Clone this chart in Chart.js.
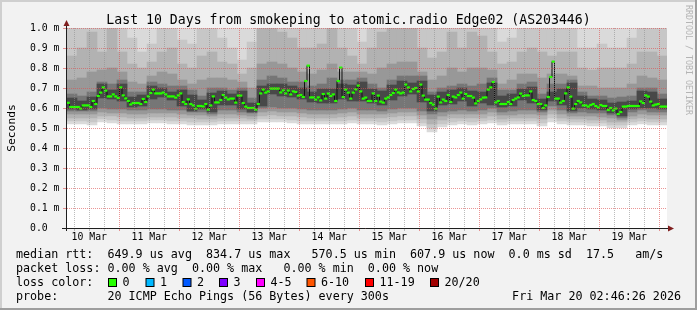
<!DOCTYPE html>
<html><head><meta charset="utf-8">
<script src="https://cdn.jsdelivr.net/npm/chart.js@4.4.1/dist/chart.umd.min.js"></script>
<style>html,body{margin:0;padding:0;background:#f2f2f2;overflow:hidden}canvas{display:block}</style>
</head><body>
<canvas id="c" width="697" height="310"></canvas>
<script>
// ---------------- data ----------------
const TITLE = 'Last 10 Days from smokeping to atomic.radio Edge02 (AS203446)';
const T0 = 3.08;            // left edge: hours after 10 Mar 00:00
const SPAN_HOURS = 240;     // 10 days
const dayLabels = ['10 Mar','11 Mar','12 Mar','13 Mar','14 Mar','15 Mar','16 Mar','17 Mar','18 Mar','19 Mar'];
const yTickLabels = ['0.0','0.1 m','0.2 m','0.3 m','0.4 m','0.5 m','0.6 m','0.7 m','0.8 m','0.9 m','1.0 m'];

// median RTT in ms, one value per hour (240)
const medianMs = [
 .626,.605,.605,.605,.605,.597,.613,.613,.613,.605,.635,.62,
 .66,.677,.703,.687,.658,.658,.668,.658,.65,.703,.663,.648,
 .635,.618,.625,.625,.625,.62,.645,.63,.658,.675,.692,.673,
 .673,.673,.677,.668,.658,.658,.658,.652,.663,.673,.63,.62,
 .643,.62,.613,.597,.61,.61,.608,.62,.592,.613,.658,.628,
 .628,.64,.665,.652,.643,.647,.647,.627,.662,.662,.625,.607,
 .60,.60,.60,.592,.62,.673,.692,.677,.683,.697,.697,.697,
 .697,.678,.688,.673,.687,.668,.683,.68,.662,.665,.655,.735,
 .812,.653,.653,.642,.653,.638,.67,.647,.672,.66,.668,.635,
 .735,.802,.655,.692,.677,.647,.677,.693,.712,.683,.647,.652,
 .635,.635,.673,.635,.662,.632,.627,.647,.653,.665,.675,.692,
 .678,.673,.677,.717,.703,.683,.695,.70,.683,.717,.662,.642,
 .642,.625,.617,.597,.657,.628,.642,.635,.665,.63,.657,.653,
 .665,.677,.647,.67,.66,.66,.652,.623,.635,.643,.652,.653,
 .692,.703,.73,.628,.635,.62,.62,.62,.63,.62,.64,.647,
 .653,.672,.66,.663,.663,.683,.64,.635,.62,.62,.60,.613,
 .655,.755,.832,.647,.647,.627,.635,.673,.703,.657,.597,.62,
 .635,.628,.613,.613,.607,.615,.62,.61,.603,.615,.61,.61,
 .59,.60,.588,.597,.57,.58,.607,.607,.61,.61,.61,.61,
 .61,.633,.625,.663,.657,.632,.613,.617,.62,.607,.607,.607
];

// smoke (ping spread) in ms, one column per 4 hours (60)
const SMOKE_TOP = 1.1; // outer smoke runs past the top of the graph
const smokeLo = [
 .52,.52,.515,.53,.525,.52,.52,.52,.525,.525, .52,.52,.515,.515,.515,.52,.52,.52,.52,.53,
 .53,.53,.525,.52,.52,.52,.52,.52,.525,.52, .52,.515,.52,.525,.525,.51,.48,.505,.515,.52,
 .515,.52,.525,.515,.52,.52,.52,.51,.53,.52, .515,.515,.51,.51,.50,.50,.515,.52,.515,.515];
const smokeL1 = [
 .535,.535,.53,.545,.54,.535,.535,.535,.54,.54, .535,.535,.53,.53,.53,.535,.535,.535,.535,.545,
 .545,.545,.54,.535,.535,.535,.535,.535,.54,.535, .535,.53,.535,.54,.54,.525,.50,.52,.53,.535,
 .53,.535,.54,.53,.535,.535,.535,.525,.55,.535, .53,.53,.525,.525,.515,.515,.53,.535,.53,.53];
const smokeL2 = [
 .55,.55,.55,.56,.56,.555,.55,.55,.555,.555, .555,.55,.55,.545,.545,.55,.55,.55,.545,.56,
 .565,.56,.56,.555,.55,.55,.55,.555,.56,.55, .55,.55,.555,.56,.56,.545,.52,.54,.55,.55,
 .55,.55,.56,.545,.55,.55,.55,.545,.57,.55, .545,.545,.54,.54,.53,.53,.545,.55,.545,.545];
const smokeL3 = [
 .57,.57,.57,.58,.575,.575,.57,.57,.575,.575, .575,.57,.565,.565,.56,.57,.57,.565,.56,.58,
 .585,.58,.58,.575,.57,.57,.57,.575,.58,.57, .57,.57,.575,.58,.58,.565,.545,.56,.57,.57,
 .57,.57,.58,.565,.565,.57,.57,.565,.59,.57, .56,.56,.56,.555,.55,.54,.56,.57,.565,.565];
const smokeL4 = [
 .585,.585,.585,.60,.595,.595,.59,.59,.595,.595, .59,.59,.58,.58,.57,.59,.59,.58,.575,.60,
 .605,.60,.60,.595,.59,.59,.59,.595,.60,.59, .59,.585,.595,.60,.60,.585,.57,.58,.585,.59,
 .585,.59,.60,.58,.585,.59,.59,.58,.61,.59, .575,.58,.575,.575,.565,.55,.58,.59,.58,.58];
const smokeL5 = [
 .595,.59,.595,.65,.645,.635,.605,.61,.645,.655, .64,.61,.585,.595,.58,.615,.615,.595,.58,.61,
 .67,.66,.655,.645,.63,.625,.625,.645,.635,.635, .625,.615,.64,.66,.67,.63,.585,.615,.62,.635,
 .61,.625,.615,.605,.61,.64,.625,.59,.635,.615, .585,.60,.595,.59,.575,.56,.595,.60,.60,.595];
const smokeU5 = [
 .65,.635,.655,.72,.69,.72,.655,.665,.71,.70, .68,.69,.665,.64,.675,.685,.67,.685,.625,.71,
 .72,.72,.71,.70,.68,.695,.695,.72,.715,.73, .695,.685,.715,.735,.725,.735,.665,.68,.69,.70,
 .685,.68,.725,.66,.67,.695,.705,.645,.68,.695, .725,.66,.645,.64,.625,.63,.635,.685,.68,.645];
const smokeU4 = [
 .67,.66,.68,.73,.72,.74,.68,.68,.73,.72, .71,.71,.69,.66,.70,.70,.69,.70,.65,.74,
 .76,.75,.73,.73,.71,.72,.75,.74,.74,.75, .72,.70,.74,.76,.76,.76,.68,.70,.71,.72,
 .71,.72,.75,.69,.69,.72,.73,.67,.72,.72, .74,.68,.66,.66,.65,.655,.66,.70,.70,.67];
const smokeU3 = [
 .74,.75,.78,.79,.80,.78,.73,.72,.76,.78, .77,.74,.72,.74,.75,.75,.74,.73,.70,.82,
 .83,.82,.80,.78,.77,.79,.82,.78,.78,.78, .77,.80,.82,.83,.83,.78,.74,.76,.80,.78,
 .80,.80,.79,.72,.74,.77,.77,.75,.77,.77, .76,.71,.71,.70,.70,.70,.72,.76,.75,.74];
const smokeU2 = [
 .86,.90,.98,.88,1.0,.88,.82,.80,.83,.88, .90,.82,.80,.86,.88,.83,.82,.77,.80,1.0,
 1.02,.98,.95,.90,.90,.92,1.0,.90,.86,.82, .90,.98,1.0,1.02,1.0,.90,.85,.88,.98,.90,
 .98,.96,.88,.82,.83,.88,.90,.88,.86,.88, .88,.80,.79,.80,.80,.80,.82,.88,.88,.86];
const smokeU1 = [
 1.1,1.1,1.1,1.05,1.1,1.02,.95,.88,.92,1.1, 1.1,.94,.92,1.05,1.1,.95,.90,.84,.93,1.1,
 1.1,1.1,1.1,1.1,1.1,1.1,1.1,1.1,1.0,.93, 1.1,1.1,1.1,1.1,1.1,1.1,1.0,1.1,1.1,1.1,
 1.1,1.1,1.05,.93,.95,1.1,1.1,1.05,1.0,1.1, 1.1,.90,.90,.92,.90,.90,.95,1.1,1.1,1.05];

const statsLines = [
 'median rtt:  649.9 us avg  834.7 us max   570.5 us min  607.9 us now  0.0 ms sd  17.5   am/s',
 'packet loss: 0.00 % avg  0.00 % max   0.00 % min  0.00 % now'
];
const lossLabels = ['0','1','2','3','4-5','6-10','11-19','20/20'];
const lossColors = ['#26ff00','#00b8ff','#0059ff','#7e00ff','#ff00ff','#ff5500','#ff0000','#a10000'];
const probeLine = 'probe:       20 ICMP Echo Pings (56 Bytes) every 300s';
const stampText = 'Fri Mar 20 02:46:26 2026';
const watermark = 'RRDTOOL / TOBI OETIKER';

// ---------------- chart ----------------
const MONO = '"DejaVu Sans Mono", monospace';
Chart.defaults.font.family = MONO;
Chart.defaults.color = '#000';
const MGRID = 'rgba(222,79,79,0.6)';     // major grid (day / value lines)
const GRID = 'rgba(143,143,143,0.6)';    // minor grid (6-hour lines)
const AXIS = '#1f1f1f';
const ARROW = '#801f1f';

const sampleHours = medianMs.map((_, i) => T0 + i + 0.5);
const colHours = smokeLo.map((_, j) => T0 + 4 * j + 2);
const xTickHours = [];
for (let h = 6; h <= 240; h += 6) xTickHours.push(h);

const bandDefs = [
  [smokeLo, null, '#dadada'],
  [smokeL1, smokeU1, '#c7c7c7'],
  [smokeL2, smokeU2, '#b2b2b2'],
  [smokeL3, smokeU3, '#989898'],
  [smokeL4, smokeU4, '#767676'],
  [smokeL5, smokeU5, '#484848']
];
const datasets = bandDefs.map(([lo, hi, col], k) => ({
  type: 'bar',
  data: lo.map((v, j) => ({ x: colHours[j], y: [v, hi ? hi[j] : SMOKE_TOP] })),
  backgroundColor: col, borderWidth: 0, grouped: false,
  barPercentage: 1, categoryPercentage: 1, order: 10 - k
}));
datasets.push({
  type: 'line',
  data: medianMs.map((v, i) => ({ x: sampleHours[i], y: v })),
  stepped: 'middle', borderColor: '#111', borderWidth: 1,
  pointStyle: 'line', pointRadius: 1.6, pointBorderWidth: 2.2,
  pointBorderColor: lossColors[0], pointBackgroundColor: lossColors[0],
  order: 0
});

const chrome = {
  id: 'chrome',
  beforeDraw(chart) {
    const { ctx, chartArea: a } = chart;
    ctx.save();
    ctx.fillStyle = '#f2f2f2'; ctx.fillRect(0, 0, 697, 310);
    ctx.fillStyle = '#cfcfcf'; ctx.fillRect(0, 0, 697, 2); ctx.fillRect(0, 0, 2, 310);
    ctx.fillStyle = '#9e9e9e'; ctx.fillRect(0, 308, 697, 2); ctx.fillRect(695, 0, 2, 310);
    ctx.fillStyle = '#ffffff'; ctx.fillRect(a.left, a.top, a.right - a.left, a.bottom - a.top);
    ctx.restore();
  },
  afterDraw(chart) {
    const { ctx, chartArea: a } = chart;
    ctx.save();
    // axes
    ctx.strokeStyle = AXIS; ctx.lineWidth = 1;
    ctx.beginPath();
    ctx.moveTo(62, a.bottom + 0.5); ctx.lineTo(669, a.bottom + 0.5);
    ctx.moveTo(a.left - 0.5, a.bottom + 3); ctx.lineTo(a.left - 0.5, 24);
    ctx.stroke();
    ctx.fillStyle = ARROW;
    ctx.beginPath(); ctx.moveTo(a.left - 3.5, 26); ctx.lineTo(a.left + 2.5, 26); ctx.lineTo(a.left - 0.5, 20); ctx.closePath(); ctx.fill();
    ctx.beginPath(); ctx.moveTo(668, a.bottom - 2.5); ctx.lineTo(668, a.bottom + 3.5); ctx.lineTo(674, a.bottom + 0.5); ctx.closePath(); ctx.fill();
    // title
    ctx.fillStyle = '#000';
    ctx.textBaseline = 'alphabetic';
    ctx.font = '13.2px ' + MONO; ctx.textAlign = 'center';
    ctx.fillText(TITLE, 348.5, 24);
    // y axis title
    ctx.save(); ctx.translate(15, 128); ctx.rotate(-Math.PI / 2);
    ctx.font = '11.3px ' + MONO; ctx.textAlign = 'center';
    ctx.fillText('Seconds', 0, 0); ctx.restore();
    // watermark
    ctx.save(); ctx.translate(685.5, 5); ctx.rotate(Math.PI / 2);
    ctx.font = '8.3px ' + MONO; ctx.textAlign = 'left'; ctx.fillStyle = '#b4b4b4';
    ctx.fillText(watermark, 0, 0); ctx.restore();
    // legend
    ctx.font = '11.7px ' + MONO; ctx.textAlign = 'left'; ctx.fillStyle = '#000';
    ctx.fillText(statsLines[0], 16, 258);
    ctx.fillText(statsLines[1], 16, 272);
    ctx.fillText('loss color:', 16, 286);
    const boxX = [108, 145.5, 182.5, 219, 256, 306.5, 365, 430];
    lossLabels.forEach((lab, i) => {
      ctx.fillStyle = '#000'; ctx.fillRect(boxX[i], 278, 9, 9);
      ctx.fillStyle = lossColors[i]; ctx.fillRect(boxX[i] + 1, 279, 7, 7);
      ctx.fillStyle = '#000'; ctx.fillText(lab, boxX[i] + 14.5, 286);
    });
    ctx.fillText(probeLine, 16, 300);
    ctx.textAlign = 'right';
    ctx.fillText(stampText, 681, 300);
    ctx.restore();
  }
};

new Chart(document.getElementById('c'), {
  type: 'bar',
  data: { datasets },
  plugins: [chrome],
  options: {
    responsive: false, animation: false, devicePixelRatio: 1,
    events: [],
    layout: { padding: { left: 30, right: 30, top: 28, bottom: 66 } },
    plugins: { legend: { display: false }, tooltip: { enabled: false }, title: { display: false } },
    scales: {
      x: {
        type: 'linear', min: T0, max: T0 + SPAN_HOURS, offset: false,
        afterBuildTicks: s => { s.ticks = xTickHours.map(v => ({ value: v })); },
        afterFit: s => { s.height = 16; },
        ticks: {
          autoSkip: false, maxRotation: 0, minRotation: 0, padding: 1,
          font: { size: 9.8 }, color: '#000',
          callback: v => (v % 24 === 12 ? dayLabels[(v - 12) / 24] : '')
        },
        grid: {
          z: 1, offset: false, tickLength: 3, lineWidth: 1,
          color: c => (c.tick && c.tick.value % 24 === 0 ? MGRID : GRID),
          tickColor: c => (c.tick && c.tick.value % 24 === 0 ? MGRID : GRID)
        },
        border: { display: false, dash: [1, 1] }
      },
      y: {
        min: 0, max: 1.0,
        afterFit: s => { s.width = 37; },
        ticks: {
          stepSize: 0.1, crossAlign: 'far', font: { size: 9.8 }, color: '#000',
          callback: (v, i) => yTickLabels[i]
        },
        grid: {
          z: 1, tickLength: 4, lineWidth: 1, color: MGRID,
          tickColor: c => (c.index === 0 ? AXIS : MGRID)
        },
        border: { display: false, dash: [1, 1] }
      }
    }
  }
});
</script>
</body></html>
